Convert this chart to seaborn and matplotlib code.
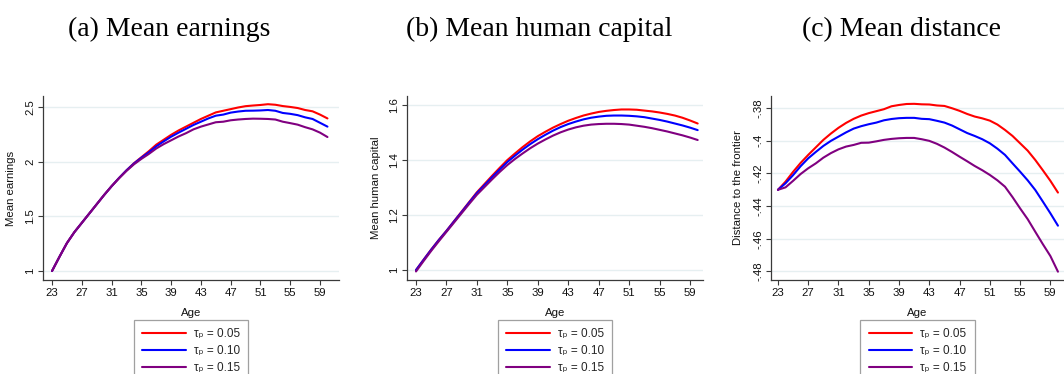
import numpy as np
import pandas as pd
import matplotlib
matplotlib.use("Agg")
import matplotlib.pyplot as plt
import seaborn as sns

# ---- data -------------------------------------------------------------
ages = list(range(23, 61))
tau_labels = ["0.05", "0.10", "0.15"]

earn_005 = [1.00, 1.13, 1.255, 1.355, 1.44, 1.525, 1.61, 1.695, 1.775, 1.85,
            1.92, 1.985, 2.04, 2.095, 2.155, 2.20, 2.245, 2.285, 2.32, 2.355,
            2.39, 2.42, 2.45, 2.465, 2.48, 2.495, 2.507, 2.513, 2.518, 2.525,
            2.52, 2.508, 2.50, 2.49, 2.472, 2.46, 2.43, 2.395]
earn_010 = [1.00, 1.13, 1.255, 1.355, 1.44, 1.525, 1.61, 1.695, 1.775, 1.85,
            1.92, 1.982, 2.035, 2.085, 2.14, 2.185, 2.228, 2.265, 2.30, 2.335,
            2.365, 2.395, 2.42, 2.43, 2.448, 2.458, 2.465, 2.466, 2.468, 2.472,
            2.465, 2.445, 2.437, 2.425, 2.405, 2.39, 2.355, 2.32]
earn_015 = [1.00, 1.13, 1.255, 1.355, 1.44, 1.525, 1.61, 1.695, 1.775, 1.848,
            1.915, 1.975, 2.025, 2.07, 2.12, 2.16, 2.195, 2.23, 2.26, 2.295,
            2.32, 2.34, 2.36, 2.365, 2.378, 2.385, 2.39, 2.393, 2.392, 2.39,
            2.385, 2.365, 2.352, 2.338, 2.315, 2.295, 2.265, 2.225]

hc_005 = [1.000, 1.038, 1.075, 1.110, 1.143, 1.178, 1.213, 1.248, 1.283, 1.313,
          1.343, 1.372, 1.400, 1.424, 1.447, 1.468, 1.487, 1.503, 1.518, 1.531,
          1.543, 1.553, 1.562, 1.569, 1.575, 1.579, 1.582, 1.584, 1.584, 1.583,
          1.580, 1.577, 1.573, 1.568, 1.562, 1.554, 1.544, 1.533]
hc_010 = [1.000, 1.037, 1.074, 1.109, 1.142, 1.177, 1.211, 1.246, 1.280, 1.309,
          1.338, 1.366, 1.393, 1.416, 1.438, 1.458, 1.476, 1.492, 1.507, 1.520,
          1.531, 1.540, 1.548, 1.554, 1.558, 1.561, 1.562, 1.562, 1.561, 1.559,
          1.556, 1.551, 1.546, 1.540, 1.533, 1.526, 1.518, 1.509]
hc_015 = [0.995, 1.033, 1.070, 1.105, 1.139, 1.173, 1.207, 1.241, 1.274, 1.302,
          1.330, 1.357, 1.382, 1.404, 1.424, 1.443, 1.460, 1.475, 1.489, 1.501,
          1.511, 1.519, 1.525, 1.529, 1.531, 1.532, 1.532, 1.531, 1.529, 1.525,
          1.521, 1.516, 1.510, 1.504, 1.497, 1.490, 1.482, 1.473]

dist_005 = [-.430, -.425, -.419, -.4135, -.4086, -.404, -.3994, -.3955, -.392, -.389,
            -.3865, -.3845, -.383, -.3818, -.3806, -.3788, -.378, -.3774, -.3773, -.3776,
            -.3777, -.3783, -.3786, -.380, -.3816, -.3835, -.3851, -.3862, -.3876, -.390,
            -.3933, -.397, -.4015, -.406, -.4117, -.418, -.4245, -.4317]
dist_010 = [-.430, -.426, -.421, -.4155, -.4107, -.4068, -.4031, -.400, -.3974, -.3948,
            -.3925, -.391, -.3898, -.3888, -.3874, -.3866, -.3861, -.3859, -.3859, -.3865,
            -.3867, -.3877, -.3888, -.3906, -.3929, -.3952, -.397, -.399, -.4015, -.4048,
            -.4086, -.4138, -.4189, -.4242, -.4301, -.4372, -.4444, -.452]
dist_015 = [-.430, -.4285, -.4245, -.4203, -.4168, -.4138, -.4103, -.4075, -.4052, -.4035,
            -.4025, -.4012, -.4011, -.4003, -.3994, -.3988, -.3984, -.3982, -.3982, -.399,
            -.400, -.4018, -.4041, -.4068, -.4097, -.4125, -.4154, -.418, -.4209, -.4242,
            -.4281, -.4345, -.4414, -.448, -.4557, -.4633, -.4706, -.4802]

titles = ["(a) Mean earnings", "(b) Mean human capital", "(c) Mean distance"]
ylabels = ["Mean earnings", "Mean human capital", "Distance to the frontier"]
xticks = list(range(23, 60, 4))
yticks = [[1, 1.5, 2, 2.5], [1, 1.2, 1.4, 1.6], [-.48, -.46, -.44, -.42, -.40, -.38]]
yticklabels = [["1", "1.5", "2", "2.5"], ["1", "1.2", "1.4", "1.6"],
               ["-.48", "-.46", "-.44", "-.42", "-.4", "-.38"]]

series = [[earn_005, earn_010, earn_015],
          [hc_005, hc_010, hc_015],
          [dist_005, dist_010, dist_015]]

# ---- style ------------------------------------------------------------
sns.set_theme(style="white")
plt.rcParams["font.family"] = ["Liberation Sans", "DejaVu Sans"]

palette = ["#ff0000", "#0000ff", "#800080"]
legend_labels = ["τₚ = " + t for t in tau_labels]

W, H = 1064, 374
fig = plt.figure(figsize=(W / 100, H / 100), dpi=100)

# axes boxes in pixels: left, right, ylim, xlim, ylabel x-offset, title x-centre
boxes = [
    dict(left=43, right=339, ylim=(0.918, 2.60), xlim=(21.79, 61.55), ylab=-0.091, tx=169),
    dict(left=407, right=703, ylim=(0.964, 1.633), xlim=(21.82, 60.7), ylab=-0.088, tx=539),
    dict(left=771, right=1064, ylim=(-.4853, -.3725), xlim=(22.08, 60.8), ylab=-0.096, tx=901),
]
top_px, bot_px = 96, 280

for i, b in enumerate(boxes):
    ax = fig.add_axes([b["left"] / W, 1 - bot_px / H,
                       (b["right"] - b["left"]) / W, (bot_px - top_px) / H])
    df = pd.DataFrame({
        "Age": ages * 3,
        "value": series[i][0] + series[i][1] + series[i][2],
        "tau": [legend_labels[0]] * len(ages) + [legend_labels[1]] * len(ages)
               + [legend_labels[2]] * len(ages),
    })
    sns.lineplot(data=df, x="Age", y="value", hue="tau", palette=palette,
                 linewidth=1.5, ax=ax, legend=False)

    ax.set_xlim(*b["xlim"])
    ax.set_ylim(*b["ylim"])
    ax.set_xticks(xticks)
    ax.set_xticklabels([str(t) for t in xticks], fontsize=8.2)
    ax.set_yticks(yticks[i])
    ax.set_yticklabels(yticklabels[i], fontsize=8.2, rotation=90, va="center")
    ax.grid(axis="y", color="#e6eff1", linewidth=1.0)
    ax.set_axisbelow(True)
    for s in ["top", "right"]:
        ax.spines[s].set_visible(False)
    for s in ["left", "bottom"]:
        ax.spines[s].set_color("#3a3a3a")
        ax.spines[s].set_linewidth(0.9)
    ax.tick_params(axis="both", direction="out", length=3.5, width=0.8,
                   color="#3a3a3a", pad=2, labelcolor="#111111")
    ax.tick_params(axis="both", which="both", bottom=True, left=True)

    ax.set_xlabel("Age", fontsize=8.2, color="#111111")
    ax.xaxis.set_label_coords(0.5, -0.152)
    ax.set_ylabel(ylabels[i], fontsize=8.2, color="#111111")
    ax.yaxis.set_label_coords(b["ylab"], 0.5)

    handles = [plt.Line2D([], [], color=c, linewidth=1.5) for c in palette]
    leg = ax.legend(handles, legend_labels, loc="upper center",
                    bbox_to_anchor=(0.5, -0.215), fontsize=8.5, frameon=True,
                    fancybox=False, edgecolor="#888888", handlelength=3.7,
                    handletextpad=0.65, labelspacing=0.43, borderpad=0.7,
                    borderaxespad=0)
    leg.get_frame().set_linewidth(0.9)

    fig.text(b["tx"] / W, 1 - 36 / H, titles[i], ha="center", va="baseline",
             fontsize=20, family=["Liberation Serif", "DejaVu Serif"], color="black")

fig.savefig("out.png", dpi=100, facecolor="white")
